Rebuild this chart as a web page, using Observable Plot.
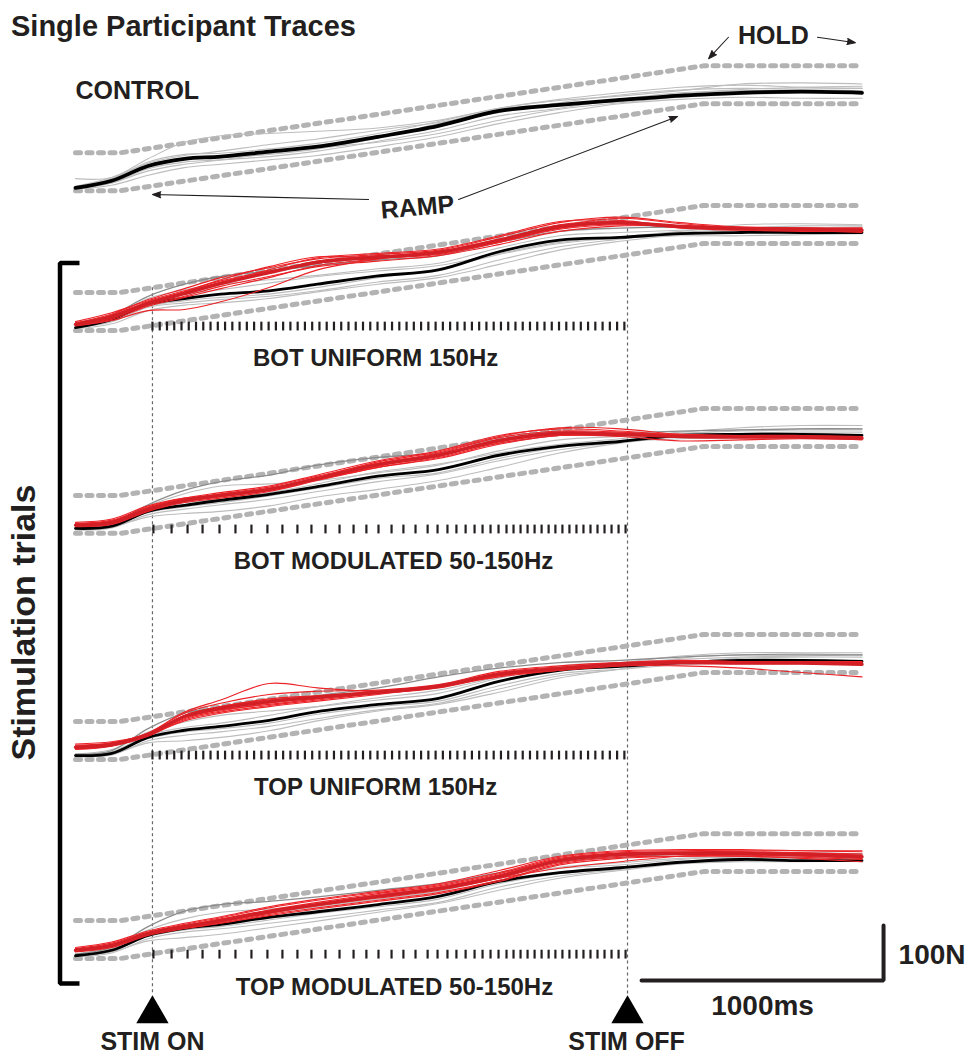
<!DOCTYPE html>
<html><head><meta charset="utf-8">
<script src="https://cdn.jsdelivr.net/npm/d3@7"></script>
<script src="https://cdn.jsdelivr.net/npm/@observablehq/plot@0.6"></script>
<style>
body{margin:0;background:#fff;}
#wrap{position:relative;width:970px;height:1057px;overflow:hidden;}
#chart svg{display:block;}
#title{position:absolute;left:11px;top:12px;font:bold 29px 'Liberation Sans',Arial,sans-serif;color:#231f20;line-height:1;white-space:nowrap;}
</style></head><body>
<div id="wrap"><div id="chart"></div><div id="title">Single Participant Traces</div></div>
<script>
// ---------------- DATA ----------------
const timeMs = [0,150,300,450,600,800,1000,1250,1500,1750,2000,2250,2500,2750,3000,3250];

// target force window (N, relative to each panel's starting level)
const boundaryTimeMs = [0,186,2595,3252];
const lowerTargetN = [0,0,158,158];
const upperTargetN = [69,69,227,227];

const panelNames = ["CONTROL","BOT UNIFORM 150Hz","BOT MODULATED 50-150Hz","TOP UNIFORM 150Hz","TOP MODULATED 50-150Hz"];

// CONTROL
const controlMean = [5,18,45,58,62,71,80,98,118,145,156,165,173,178,180,178];
const controlTrials = [
  [22,24,58,88,100,104,108,114,128,150,166,178,188,192,188,186],
  [3,10,28,42,48,56,64,80,98,122,142,158,166,170,168,168],
  [8,24,50,64,72,84,94,110,124,142,160,174,183,186,185,186],
  [4,14,40,52,56,62,72,90,110,136,150,166,178,182,183,182],
  [6,20,52,66,68,76,86,104,126,150,164,172,182,194,196,194],
  [5,14,36,48,56,68,78,88,104,128,148,160,170,175,178,180],
  [7,22,48,58,60,66,76,96,122,148,158,162,176,184,188,190]
];

// BOT UNIFORM 150Hz
const botUniformMean = [5,20,48,58,66,72,84,99,110,143,164,169,176,178,178,178];
const botUniformTrials = [
  [4,16,42,50,56,62,72,88,100,128,152,166,178,184,186,188],
  [8,26,58,74,84,92,100,112,122,150,172,178,182,186,190,190],
  [3,12,36,46,50,58,70,84,96,120,146,162,174,182,186,186],
  [6,22,52,66,74,86,98,108,118,140,160,170,180,192,194,192],
  [5,18,44,54,60,66,78,96,112,138,158,168,172,172,174,176]
];
const botUniformDark = [8,28,62,84,98,108,118,128,136,160,180,186,188,186,184,184];
const botUniformStimMean = [11,25,49,67,85,105,124,133,142,164,189,196,189,185,184,182];
const botUniformStim = [
  [14,30,56,76,96,114,130,138,146,170,196,206,196,188,186,184],
  [8,20,44,60,76,96,118,130,140,160,184,192,188,184,183,182],
  [12,28,52,70,88,110,132,140,148,172,198,200,188,184,182,180],
  [10,22,46,62,80,98,116,126,136,156,180,190,190,188,186,186],
  [16,32,54,72,90,108,122,134,144,166,190,204,194,186,184,184],
  [9,18,36,38,52,78,110,130,142,162,186,194,188,184,182,178],
  [13,26,50,68,86,106,126,136,140,164,192,198,190,186,186,186],
  [11,24,48,70,92,116,134,132,138,160,186,194,186,182,180,180]
];

// BOT MODULATED 50-150Hz
const botModMean = [9,13,40,51,60,71,85,104,116,142,158,167,178,180,180,178];
const botModTrials = [
  [6,10,34,44,52,62,76,94,108,132,152,166,180,188,190,190],
  [12,20,50,72,86,90,96,110,124,150,170,176,182,186,188,188],
  [8,12,30,36,40,50,66,80,96,120,146,164,176,182,184,184],
  [10,16,44,56,62,74,90,112,126,146,162,172,184,192,196,196],
  [7,14,38,48,56,68,82,100,110,136,156,166,172,174,176,180]
];
const botModDark = [10,18,52,78,94,106,124,138,146,164,178,182,186,188,190,190];
const botModStimMean = [15,20,44,60,69,80,100,125,142,169,182,180,176,175,175,173];
const botModStim = [
  [18,24,48,64,74,86,106,132,150,178,190,186,178,176,176,174],
  [12,16,40,56,64,76,96,120,136,162,178,178,176,176,175,173],
  [16,22,46,62,72,84,104,128,146,174,186,184,176,174,174,172],
  [14,18,42,58,66,78,98,122,140,166,180,180,178,176,176,176],
  [20,26,50,64,70,80,102,130,148,176,192,190,180,176,174,172],
  [13,18,42,58,68,82,98,120,138,164,178,176,168,170,172,170],
  [15,20,44,60,70,80,100,126,144,170,184,182,178,178,178,176],
  [17,22,46,62,68,78,98,124,142,168,180,182,180,178,176,174]
];

// TOP UNIFORM 150Hz
const topUniformMean = [7,11,40,53,60,71,87,100,111,142,162,169,176,180,180,178];
const topUniformTrials = [
  [5,8,34,44,50,60,74,90,102,128,152,164,184,190,192,190],
  [10,18,50,68,80,88,96,108,120,148,168,176,188,194,194,194],
  [6,10,30,34,40,52,70,88,100,122,148,164,176,184,186,186],
  [8,14,44,58,66,80,96,112,126,150,170,176,182,186,188,190],
  [7,12,38,50,56,66,82,96,106,134,156,164,172,176,178,180]
];
const topUniformDark = [9,16,56,84,94,104,116,130,150,166,176,180,186,190,190,190];
const topUniformStimMean = [22,27,45,78,93,105,113,122,133,155,165,173,176,175,175,173];
const topUniformStim = [
  [26,30,48,84,102,118,124,126,136,160,170,176,178,178,178,176],
  [18,24,42,72,86,98,108,120,132,152,162,170,174,174,174,172],
  [24,30,48,86,108,138,130,124,134,156,166,174,178,178,176,176],
  [20,26,44,76,90,100,110,122,134,154,164,172,176,176,176,174],
  [28,32,46,80,96,110,116,124,132,156,166,176,180,178,176,174],
  [19,25,44,74,88,102,112,120,130,152,162,170,170,166,158,150],
  [23,28,46,80,96,108,114,122,134,158,168,174,176,176,176,174],
  [21,27,44,70,84,96,106,118,132,150,162,172,176,178,178,178]
];

// TOP MODULATED 50-150Hz
const topModMean = [5,15,42,55,62,75,85,98,113,140,156,165,175,180,178,178];
const topModTrials = [
  [3,10,36,48,54,64,74,88,102,130,150,162,174,178,178,176],
  [8,22,52,72,84,90,96,108,122,150,166,174,182,184,182,182],
  [4,12,32,38,44,56,68,84,100,124,146,160,172,176,176,178],
  [6,18,46,60,68,82,94,108,122,146,164,170,180,186,186,184],
  [5,14,40,52,58,70,82,94,108,136,154,164,176,182,184,184]
];
const topModDark = [8,20,58,86,98,104,112,124,136,156,176,184,190,192,192,190];
const topModStimMean = [15,24,45,58,69,85,98,113,127,149,178,189,191,191,189,185];
const topModStim = [
  [18,28,48,62,74,92,106,120,134,156,184,194,196,196,196,196],
  [12,20,42,54,64,80,92,106,120,142,172,184,186,186,184,180],
  [16,26,46,60,72,88,102,118,132,154,182,192,194,194,192,190],
  [14,22,44,56,66,82,96,110,124,146,174,186,190,190,188,184],
  [20,30,50,64,76,94,108,122,136,160,186,196,198,198,196,194],
  [13,22,44,56,64,78,90,104,118,140,170,182,186,186,182,176],
  [17,25,46,58,70,86,100,116,130,152,180,190,192,194,192,188],
  [15,24,44,56,68,84,98,112,126,146,164,176,186,188,186,182]
];

// stimulation
const stimOnMs = 318, stimOffMs = 2281;
const uniformPulsesMs = [318,348,378,408,438,468,498,528,558,588,618,648,678,708,738,768,798,828,858,888,918,948,978,1008,1038,1068,1098,1128,1158,1188,1218,1248,1278,1308,1338,1368,1398,1428,1458,1488,1518,1548,1578,1608,1638,1668,1698,1728,1758,1788,1818,1848,1878,1908,1938,1968,1998,2028,2058,2088,2118,2148,2178,2208,2238,2268];
const modulatedPulsesMs = [322,397,463,525,595,661,727,793,855,917,975,1033,1091,1149,1202,1252,1306,1355,1405,1455,1496,1537,1574,1612,1649,1682,1715,1748,1781,1810,1839,1868,1897,1926,1955,1983,2012,2041,2070,2099,2128,2157,2186,2215,2244,2273];

const scaleBarMs = 1000, scaleBarN = 100;

// ---------------- LAYOUT ----------------
const W = 970, H = 1057;
const pxPerN = 0.55;
const panelBaseN = [1576, 1322, 953, 542, 180];
const panelLabelMs = [0, 1240, 1314, 1240, 1318];
const labelDropN = 65.5;
const pulseSpanN = [-1, 15];
const stimLineBottomN = 112.7, triangleN = 79.4, stimTextN = 13;
const scaleBarStart = {t: 2339, v: 140};

// ---------------- BUILD ----------------
const panels = [
  {mean: controlMean, gray: controlTrials, dark: null, red: [], redMean: null, pulses: null},
  {mean: botUniformMean, gray: botUniformTrials, dark: botUniformDark, red: botUniformStim, redMean: botUniformStimMean, pulses: uniformPulsesMs},
  {mean: botModMean, gray: botModTrials, dark: botModDark, red: botModStim, redMean: botModStimMean, pulses: modulatedPulsesMs},
  {mean: topUniformMean, gray: topUniformTrials, dark: topUniformDark, red: topUniformStim, redMean: topUniformStimMean, pulses: uniformPulsesMs},
  {mean: topModMean, gray: topModTrials, dark: topModDark, red: topModStim, redMean: topModStimMean, pulses: modulatedPulsesMs}
];

const series = (vals, times, base, id) => vals.map((f, i) => ({id, t: times[i], v: base + f}));

let boundaryRows = [], grayRows = [], darkRows = [], meanRows = [], redRows = [], redMeanRows = [], pulseRows = [];
panels.forEach((p, k) => {
  const b = panelBaseN[k];
  boundaryRows.push(...series(lowerTargetN, boundaryTimeMs, b, `lo${k}`));
  boundaryRows.push(...series(upperTargetN, boundaryTimeMs, b, `up${k}`));
  p.gray.forEach((g, j) => grayRows.push(...series(g, timeMs, b, `g${k}_${j}`)));
  if (p.dark) darkRows.push(...series(p.dark, timeMs, b, `d${k}`));
  meanRows.push(...series(p.mean, timeMs, b, `m${k}`));
  p.red.forEach((r, j) => redRows.push(...series(r, timeMs, b, `r${k}_${j}`)));
  if (p.redMean) redMeanRows.push(...series(p.redMean, timeMs, b, `rm${k}`));
  if (p.pulses) p.pulses.forEach(t => pulseRows.push({t, y1: b + pulseSpanN[0], y2: b + pulseSpanN[1]}));
});

const upperAt = d3.scaleLinear().domain(boundaryTimeMs).range(upperTargetN);
const stimLines = [stimOnMs, stimOffMs].map(t => ({t, y1: panelBaseN[1] + upperAt(t), y2: stimLineBottomN}));

const labelRows = panelNames.slice(1).map((name, i) => ({text: name, t: panelLabelMs[i + 1], v: panelBaseN[i + 1] - labelDropN}));

const curve = "catmull-rom";
const font = "'Liberation Sans', Arial, Helvetica, sans-serif";
const ink = "#231f20";

const chart = Plot.plot({
  width: W, height: H,
  margin: 0,
  style: {fontFamily: font, color: ink, background: "#fff", overflow: "visible"},
  x: {domain: [0, 3252], range: [75, 862], axis: null},
  y: {domain: [0, H / pxPerN], range: [H, 0], axis: null},
  marks: [
    Plot.ruleX(stimLines, {x: "t", y1: "y1", y2: "y2", stroke: "#666", strokeWidth: 1.2, strokeDasharray: "3,3"}),
    Plot.line(boundaryRows, {x: "t", y: "v", z: "id", stroke: "#b3b3b3", strokeWidth: 5, strokeDasharray: "5,6.5", strokeLinecap: "round"}),
    Plot.ruleX(pulseRows, {x: "t", y1: "y1", y2: "y2", stroke: ink, strokeWidth: 2.2}),
    Plot.line(grayRows, {x: "t", y: "v", z: "id", stroke: "#bdbdbd", strokeWidth: 1.1, curve}),
    Plot.line(darkRows, {x: "t", y: "v", z: "id", stroke: "#8c8c8c", strokeWidth: 1.3, curve}),
    Plot.line(meanRows.filter(d => d.id !== "m0"), {x: "t", y: "v", z: "id", stroke: "#000", strokeWidth: 2.8, curve}),
    Plot.line(meanRows.filter(d => d.id === "m0"), {x: "t", y: "v", z: "id", stroke: "#000", strokeWidth: 3.8, curve}),
    Plot.line(redRows, {x: "t", y: "v", z: "id", stroke: "#ec2227", strokeWidth: 1.1, curve}),
    Plot.line(redMeanRows, {x: "t", y: "v", z: "id", stroke: "#d21f26", strokeWidth: 3.4, curve}),
    // stimulation triangles & labels
    Plot.dot([stimOnMs, stimOffMs], {x: d => d, y: triangleN, symbol: "triangle", r: 12, fill: "#000", stroke: "none"}),
    Plot.text([{t: stimOnMs, s: "STIM ON"}, {t: stimOffMs - 4, s: "STIM OFF"}], {x: "t", y: stimTextN, text: "s", fontSize: 25, fontWeight: "bold", lineAnchor: "bottom", fill: ink}),
    // panel labels
    Plot.text([{t: 0, v: (H - 98) / pxPerN, s: panelNames[0]}], {x: "t", y: "v", text: "s", fontSize: 25, fontWeight: "bold", textAnchor: "start", lineAnchor: "bottom", fill: ink}),
    Plot.text(labelRows, {x: "t", y: "v", text: "text", fontSize: 24, fontWeight: "bold", lineAnchor: "bottom", fill: ink}),
    // annotations
    Plot.text([{t: 1413, v: 1545.5, s: "RAMP"}], {x: "t", y: "v", text: "s", fontSize: 25, fontWeight: "bold", rotate: -5, lineAnchor: "middle", fill: ink}),
    Plot.text([{t: 2884, v: 1843.6, s: "HOLD"}], {x: "t", y: "v", text: "s", fontSize: 25, fontWeight: "bold", lineAnchor: "bottom", fill: ink}),
    Plot.arrow([
      {x1: 1211, y1: 1560, x2: 318, y2: 1569},
      {x1: 1583, y1: 1560, x2: 2488, y2: 1711},
      {x1: 2698, y1: 1855, x2: 2616, y2: 1816},
      {x1: 3066, y1: 1855, x2: 3223, y2: 1845}
    ], {x1: "x1", y1: "y1", x2: "x2", y2: "y2", stroke: ink, fill: ink, strokeWidth: 1.1, headLength: 12, headAngle: 40}),
    // stimulation bracket
    Plot.line([[16.5, 1444.5], [-64, 1444.5], [-64, 134.5], [16.5, 134.5]], {x: d => d[0], y: d => d[1], stroke: "#000", strokeWidth: 4.5, strokeLinejoin: "miter", strokeLinecap: "butt"}),
    Plot.text([{t: -211, v: 790.9, s: "Stimulation trials"}], {x: "t", y: "v", text: "s", fontSize: 34, fontWeight: "bold", rotate: -90, lineAnchor: "middle", fill: ink}),
    // scale bar
    Plot.line([[scaleBarStart.t, scaleBarStart.v], [scaleBarStart.t + scaleBarMs, scaleBarStart.v], [scaleBarStart.t + scaleBarMs, scaleBarStart.v + scaleBarN]], {x: d => d[0], y: d => d[1], stroke: ink, strokeWidth: 4, strokeLinejoin: "miter", strokeLinecap: "round"}),
    Plot.text([{t: scaleBarStart.t + scaleBarMs / 2, v: 76.4, s: `${scaleBarMs}ms`}], {x: "t", y: "v", text: "s", fontSize: 28, fontWeight: "bold", lineAnchor: "bottom", fill: ink}),
    Plot.text([{t: 3401, v: 170.9, s: `${scaleBarN}N`}], {x: "t", y: "v", text: "s", fontSize: 28, fontWeight: "bold", textAnchor: "start", lineAnchor: "bottom", fill: ink})
  ]
});
document.getElementById("chart").appendChild(chart);
</script></body></html>
